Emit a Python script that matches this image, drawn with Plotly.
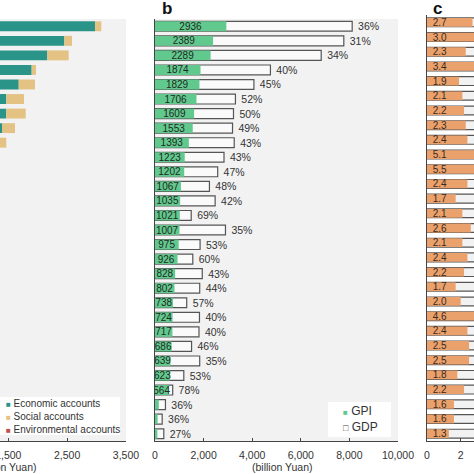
import plotly.graph_objects as go

# rows are ranked by GPI, top to bottom (names sit off the left edge of the crop)
rank = list(range(1, 30))

# panel a - GPI accounts, billion Yuan (environmental accounts are deductions)
economic = [2973, 2452, 2163, 1897, 1677, 1466, 1466, 1393, 1230, 1050, 980, 900, 880, 820, 850,
            790, 740, 680, 650, 580, 600, 590, 550, 540, 480, 420, 130, 80, 75]
social = [107, 130, 363, 74, 277, 301, 330, 221, 236, 240, 300, 250, 230, 270, 240,
          260, 250, 210, 210, 220, 180, 190, 190, 150, 190, 190, 50, 35, 30]
environmental = [-144, -193, -237, -97, -125, -61, -187, -61, -73, -67, -78, -83, -75, -69, -83,
                 -75, -64, -62, -58, -62, -56, -63, -54, -51, -47, -46, -25, -8, -7]

# panel b - GPI vs GDP, billion Yuan
gpi = [2936, 2389, 2289, 1874, 1829, 1706, 1609, 1553, 1393, 1223, 1202, 1067, 1035, 1021, 1007,
       975, 926, 828, 802, 738, 724, 717, 686, 639, 623, 564, 155, 107, 98]
gdp = [8115, 7770, 6840, 4750, 4070, 3310, 3230, 3190, 3260, 2840, 2580, 2240, 2475, 1490, 2900,
       1855, 1555, 1945, 1840, 1305, 1830, 1810, 1505, 1840, 1185, 728, 430, 296, 362]
gpi_labels = ["2936", "2389", "2289", "1874", "1829", "1706", "1609", "1553", "1393", "1223",
              "1202", "1067", "1035", "1021", "1007", "975", "926", "828", "802", "738",
              "724", "717", "686", "639", "623", "564", "", "", ""]
ratio_labels = ["36%", "31%", "34%", "40%", "45%", "52%", "50%", "49%", "43%", "43%",
                "47%", "48%", "42%", "69%", "35%", "53%", "60%", "43%", "44%", "57%",
                "40%", "40%", "46%", "35%", "53%", "78%", "36%", "36%", "27%"]

# panel c - per capita GPI (orange) over per capita GDP, 10k Yuan
gpi_pc = [2.7, 3.0, 2.3, 3.4, 1.9, 2.1, 2.2, 2.3, 2.4, 5.1, 5.5, 2.4, 1.7, 2.1, 2.6,
          2.1, 2.4, 2.2, 1.7, 2.0, 4.6, 2.4, 2.5, 2.5, 1.8, 2.2, 1.6, 1.6, 1.3]
gdp_pc = [7.5, 9.7, 6.8, 8.5, 4.2, 4.0, 4.4, 4.7, 5.6, 11.9, 11.7, 5.0, 4.0, 3.0, 7.4,
          4.0, 4.0, 5.1, 3.9, 3.5, 11.5, 6.0, 5.4, 7.1, 3.4, 2.9, 4.4, 4.4, 4.8]

FONT = "Liberation Sans, Arial, sans-serif"
INK = "#333333"
AXIS = "#444444"
TEAL = "#2b9488"
TAN = "#e3c283"
RED = "#c0504d"
GREEN = "#62c98e"
ORANGE = "#eba16c"
BG = "#f2f2f2"

W, H = 474, 474
TOP, BOT = 15, 33


def px(x):
    return x / W


def py(y):
    return (H - BOT - y) / (H - TOP - BOT)


fig = go.Figure()

# a
fig.add_trace(go.Bar(y=rank, x=economic, orientation="h", name="Economic accounts",
                     marker=dict(color=TEAL, line_width=0), width=0.68, xaxis="x", yaxis="y"))
fig.add_trace(go.Bar(y=rank, x=social, base=economic, orientation="h", name="Social accounts",
                     marker=dict(color=TAN, line_width=0), width=0.68, xaxis="x", yaxis="y"))
fig.add_trace(go.Bar(y=rank, x=environmental, orientation="h", name="Environmental accounts",
                     marker=dict(color=RED, line_width=0), width=0.68, xaxis="x", yaxis="y"))

# b
fig.add_trace(go.Bar(y=rank, x=gdp, orientation="h", name="GDP",
                     marker=dict(color="#fafafa", line=dict(color="#555555", width=1.2)),
                     width=0.68, text=["\u00a0" + t for t in ratio_labels],
                     textposition="outside", constraintext="none",
                     textfont=dict(size=10.5, color=INK), xaxis="x2", yaxis="y2"))
fig.add_trace(go.Bar(y=rank, x=gpi, orientation="h", name="GPI",
                     marker=dict(color=GREEN, line_width=0), width=0.68,
                     text=gpi_labels, textposition="inside", insidetextanchor="middle",
                     textangle=0, constraintext="none",
                     textfont=dict(size=10, color="#1e2a22"), xaxis="x2", yaxis="y2"))

# c
fig.add_trace(go.Bar(y=rank, x=gdp_pc, orientation="h", name="GDP per capita",
                     marker=dict(color=BG, line=dict(color="#555555", width=1.2)),
                     width=0.6, xaxis="x3", yaxis="y3"))
fig.add_trace(go.Bar(y=rank, x=gpi_pc, orientation="h", name="GPI per capita",
                     marker=dict(color=ORANGE, line_width=0), width=0.6,
                     text=["\u00a0" + f"{v:.1f}" for v in gpi_pc], textposition="inside",
                     insidetextanchor="start", textangle=0, constraintext="none",
                     textfont=dict(size=10, color="#3a2a1e"), xaxis="x3", yaxis="y3"))

xbase = dict(showgrid=False, zeroline=False, showline=True, linecolor=AXIS, linewidth=1.2,
             ticks="inside", ticklen=3, tickcolor=AXIS, tickformat=",d", automargin=False,
             ticklabelstandoff=4, ticklabeloverflow="allow",
             tickfont=dict(size=10.5, color=INK))
ybase = dict(showgrid=False, zeroline=False, showticklabels=False, ticks="", automargin=False,
             range=[29.5, 0.5])

ab_top = (H - BOT - 19) / (H - TOP - BOT)

fig.update_layout(
    width=W, height=H, autosize=False,
    margin=dict(l=0, r=0, t=TOP, b=BOT, autoexpand=False),
    paper_bgcolor="white", plot_bgcolor="white",
    barmode="overlay", showlegend=False,
    font=dict(family=FONT, size=11, color=INK),
    xaxis=dict(xbase, domain=[0, px(126)], range=[1359, 3500], tick0=500, dtick=1000, anchor="y"),
    yaxis=dict(ybase, domain=[0, ab_top], anchor="x", showline=False),
    xaxis2=dict(xbase, domain=[px(155), px(398)], range=[0, 10000], dtick=2000, anchor="y2"),
    yaxis2=dict(ybase, domain=[0, ab_top], anchor="x2", showline=True, linecolor=AXIS,
                linewidth=1.4),
    xaxis3=dict(xbase, domain=[px(427), 1], range=[0, 2.79], dtick=2, tickformat="d",
                anchor="y3"),
    yaxis3=dict(ybase, domain=[0, 1], anchor="x3", showline=True, linecolor=AXIS,
                linewidth=1.4),
)

# grey panel backgrounds for a and b
for xr, yr in [("x domain", "y domain"), ("x2 domain", "y2 domain")]:
    fig.add_shape(type="rect", xref=xr, yref=yr, x0=0, x1=1, y0=0, y1=1,
                  fillcolor=BG, line_width=0, layer="below")

# legend boxes
fig.add_shape(type="rect", xref="paper", yref="paper", x0=0, x1=px(120), y0=py(435), y1=py(397),
              fillcolor="white", line_width=0, layer="above")
fig.add_shape(type="rect", xref="paper", yref="paper", x0=px(328), x1=px(391), y0=py(437),
              y1=py(402), fillcolor="white", line_width=0, layer="above")

sq = "<span style='font-size:8px;color:{}'>■</span> {}"
fig.add_annotation(xref="paper", yref="paper", x=px(4), y=py(416), xanchor="left",
                   yanchor="middle", align="left", showarrow=False,
                   font=dict(size=10, color=INK),
                   text="<br>".join([sq.format(TEAL, "Economic accounts"),
                                     sq.format(TAN, "Social accounts"),
                                     sq.format(RED, "Environmental accounts")]))
fig.add_annotation(xref="paper", yref="paper", x=px(341), y=py(419), xanchor="left",
                   yanchor="middle", align="left", showarrow=False,
                   font=dict(size=12, color=INK),
                   text=sq.format(GREEN, "GPI") + "<br>"
                   + "<span style='font-size:9px;color:#444'>□</span> GDP")

# axis titles
fig.add_annotation(xref="paper", yref="paper", x=px(282), y=py(466.5), showarrow=False,
                   xanchor="center", yanchor="middle", text="(billion Yuan)",
                   font=dict(size=10.5, color=INK))
fig.add_annotation(xref="paper", yref="paper", x=px(39), y=py(466.5), showarrow=False,
                   xanchor="right", yanchor="middle", text="(billion Yuan)",
                   font=dict(size=10.5, color=INK))

# panel letters
for letter, x in [("b", 160), ("c", 431)]:
    fig.add_annotation(xref="paper", yref="paper", x=px(x), y=py(8), showarrow=False,
                       xanchor="left", yanchor="middle", text="<b>" + letter + "</b>",
                       font=dict(size=17, color="#111111"))

# the page's default body margin would shift the 474px figure, so drop it
fig.write_html("out.html", config={"responsive": False, "displayModeBar": False},
               post_script="document.body.style.margin='0';"
                           "document.body.style.overflow='hidden';")
